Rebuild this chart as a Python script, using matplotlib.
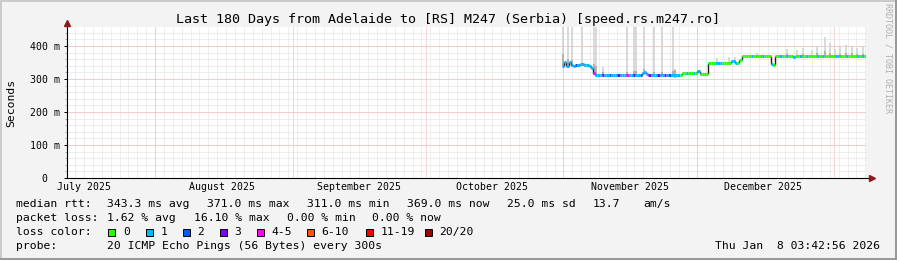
import numpy as np
import matplotlib
matplotlib.use("Agg")
import matplotlib.pyplot as plt
from matplotlib.collections import LineCollection
from matplotlib.patches import Rectangle
from matplotlib.lines import Line2D

plt.rcParams["font.family"] = ["DejaVu Sans Mono"]

# x axis is in days since the window start (Jul 12 2025 03:42:56), 180 days long
month_starts = [19.845, 50.845, 80.845, 111.845, 141.845, 172.845]
month_label_pos = [3.845, 34.845, 65.845, 95.845, 126.845, 156.845]
month_labels = ["July 2025", "August 2025", "September 2025",
                "October 2025", "November 2025", "December 2025"]

y_ticks = [0, 100, 200, 300, 400]
y_labels = ["0", "100 m", "200 m", "300 m", "400 m"]

# median rtt (ms), one value per half day starting at day 111.5
first_day = 111.5
step_days = 0.5
median_ms = [
    340, 352, 338, 352, 342, 340, 341, 343, 345, 344, 341, 343, 340,
    333, 318, 312, 312, 312, 312, 312, 312, 312, 312, 312, 312, 312,
    312, 312, 312, 312, 312, 312, 312, 312, 312, 312,
    318, 322, 314,
    312, 312, 312, 312, 312, 312, 312, 312, 312, 312, 312, 312,
    313, 313, 313,
    319, 319, 319, 319, 319, 319, 319,
    325, 315, 314, 314, 314,
    349, 348, 348, 348, 347, 347, 348, 348, 348, 348,
    354, 355, 349, 350, 357,
    370, 370, 370, 370, 370, 370, 370, 370, 370, 370, 370, 370, 370,
    346, 343,
    370, 370, 370, 370, 370, 370, 370, 370, 368, 370, 370, 370, 370, 370,
    370, 370, 370, 370, 370, 370, 370, 370, 370, 370, 370, 370, 370, 370,
    370, 370, 370, 370, 370, 370, 370, 370, 370, 370, 370, 370, 369,
]
# packet loss class per sample (index into loss_colors)
loss_class = [
    1, 1, 1, 1, 1, 1, 2, 1, 1, 1, 1, 1, 1,
    1, 4, 1, 1, 1, 3, 1, 1, 2, 1, 1, 1, 3,
    1, 1, 1, 4, 1, 1, 3, 1, 1, 2,
    1, 1, 1,
    3, 1, 1, 1, 3, 1, 1, 3, 1, 2, 1, 1,
    1, 1, 0,
    0, 0, 1, 0, 0, 1, 0,
    1, 0, 0, 0, 0,
    0, 0, 0, 1, 1, 1, 0, 0, 0, 0,
    1, 1, 1, 0, 0,
    0, 0, 0, 0, 1, 0, 0, 0, 0, 1, 0, 0, 0,
    1, 0,
    0, 0, 1, 0, 0, 1, 0, 0, 1, 0, 0, 1, 0, 0,
    1, 0, 0, 0, 0, 1, 0, 1, 0, 0, 0, 0, 0, 1,
    1, 0, 0, 0, 1, 0, 0, 0, 0, 1, 0, 1, 0,
]

# smoke (spread of the 20 pings) spikes
spike_day = [111.74, 112.86, 113.76, 116.02, 118.72, 119.17, 120.75, 126.16,
             127.73, 128.19, 129.99, 132.24, 134.05, 136.53, 136.98, 146.39,
             149.09, 150.44, 155.44, 156.79, 162.20, 164.45, 165.80, 167.83,
             168.96, 170.76, 171.88, 173.01, 174.14, 175.49, 176.84, 177.97,
             179.32]
spike_low = [336, 336, 336, 338, 312, 310, 310, 310, 310, 310, 316, 310, 310,
             310, 303, 346, 346, 348, 368, 368, 368, 368, 368, 368, 368, 368,
             368, 368, 368, 368, 368, 368, 368]
spike_top = [470, 470, 470, 470, 470, 470, 335, 470, 470, 470, 470, 470, 470,
             470, 330, 363, 368, 366, 378, 373, 392, 388, 393, 388, 400, 426,
             408, 390, 398, 403, 400, 393, 396]
spike_dark = [375, 360, 358, 350, 345, 340, 320, 320, 325, 325, 330, 320, 320,
              325, 328, 352, 352, 354, 374, 374, 376, 374, 376, 374, 378, 385,
              380, 374, 376, 378, 378, 376, 376]

loss_colors = ["#26ff00", "#00b8ff", "#0059ff", "#7e00ff",
               "#ff00ff", "#ff5500", "#ff0000", "#a10000"]
loss_names = ["0", "1", "2", "3", "4-5", "6-10", "11-19", "20/20"]

W, H = 897, 260
fig = plt.figure(figsize=(W / 100, H / 100), dpi=100, facecolor="#f3f3f3")
ax = fig.add_axes([67 / W, (H - 178) / H, 799 / W, 151 / H])
ax.set_facecolor("white")
ax.set_xlim(0, 180)
ax.set_ylim(0, 457.6)
for s in ax.spines.values():
    s.set_visible(False)

# grid: minor every 2 days / 20 ms, major at month starts / 100 ms
dot = (0, (1, 1))
for d in np.arange(1.845, 180, 2):
    ax.axvline(d, color="#dedede", lw=0.72, ls=dot, zorder=0.5)
for v in range(20, 458, 20):
    ax.axhline(v, color="#dedede", lw=0.72, ls=dot, zorder=0.5)
for d in month_starts:
    ax.axvline(d, color="#f7b0b0", lw=0.72, ls=dot, zorder=0.6)
for v in y_ticks[1:]:
    ax.axhline(v, color="#f7b0b0", lw=0.72, ls=dot, zorder=0.6)

# smoke
ax.vlines(spike_day, spike_low, spike_top, color="#d0d0d0", lw=1.1, zorder=1)
ax.vlines(spike_day, spike_low, spike_dark, color="#a8a8a8", lw=1.1, zorder=1.1)

# median line coloured by packet loss
t = first_day + step_days * np.arange(len(median_ms))
segs = [[(t[i], median_ms[i]), (t[i] + step_days, median_ms[i])] for i in range(len(t))]
cols = [loss_colors[c] for c in loss_class]
steps = [[(t[i] + step_days, median_ms[i]), (t[i] + step_days, median_ms[i + 1])]
         for i in range(len(t) - 1) if median_ms[i] != median_ms[i + 1]]
ax.add_collection(LineCollection(steps, colors="#202020", linewidths=1.0, zorder=2))
ax.add_collection(LineCollection(segs, colors=cols, linewidths=2.2, capstyle="butt", zorder=3))

# axes with arrows
ax.plot([0, 1.006], [0, 0], transform=ax.transAxes, color="black", lw=0.8, clip_on=False, zorder=4)
ax.plot([0, 0], [0, 1.02], transform=ax.transAxes, color="black", lw=0.8, clip_on=False, zorder=4)
ax.plot(1.007, 0, marker=">", ms=4.5, color="#8b1a1a", transform=ax.transAxes, clip_on=False, zorder=5)
ax.plot(0, 1.024, marker="^", ms=4.5, color="#8b1a1a", transform=ax.transAxes, clip_on=False, zorder=5)

ax.set_yticks(y_ticks, y_labels, fontsize=7.1)
ax.set_yticks(range(20, 458, 20), minor=True)
ax.tick_params(axis="y", which="major", length=2.2, width=0.72, pad=2.9, colors="black")
ax.tick_params(axis="y", which="minor", length=1.4, width=0.72, color="#aaaaaa")
ax.set_xticks(month_label_pos, month_labels, fontsize=7.1)
ax.tick_params(axis="x", length=0, pad=3.2)
ax.yaxis.get_major_ticks()[0].label1.set_x(-13 / 799)

ax.set_ylabel("Seconds", fontsize=8.2, labelpad=0)
ax.yaxis.set_label_coords(-51 / 799, 0.5)


def txt(x, y, s, size=8.2, **kw):
    fig.text(x / W, 1 - y / H, s, va="center", fontsize=size, **kw)


txt(448, 19, "Last 180 Days from Adelaide to [RS] M247 (Serbia) [speed.rs.m247.ro]",
    size=9.6, ha="center")
fig.text(888 / W, 1 - 58 / H, "RRDTOOL / TOBI OETIKER", rotation=270,
         ha="center", va="center", fontsize=6, color="#b0b0b0")

# legend block
txt(16, 204, "median rtt:")
for x, s in [(107, "343.3 ms avg"), (207, "371.0 ms max"), (307, "311.0 ms min"),
             (407, "369.0 ms now"), (507, "25.0 ms sd"), (593, "13.7"), (643, "am/s")]:
    txt(x, 204, s)
txt(16, 218, "packet loss:")
for x, s in [(107, "1.62 % avg"), (194, "16.10 % max"), (287, "0.00 % min"), (372, "0.00 % now")]:
    txt(x, 218, s)
txt(16, 232, "loss color:")
box_x = [108, 145.5, 182.5, 219.5, 256.5, 306.5, 365.5, 424.5]
for bx, c, name in zip(box_x, loss_colors, loss_names):
    fig.add_artist(Rectangle((bx / W, 1 - 235.5 / H), 7 / W, 7 / H, transform=fig.transFigure,
                             facecolor=c, edgecolor="black", lw=0.7))
    txt(bx + 15, 232, name)
txt(16, 246, "probe:")
txt(107, 246, "20 ICMP Echo Pings (56 Bytes) every 300s")
txt(880, 246, "Thu Jan  8 03:42:56 2026", ha="right")

# 3d-ish frame
fig.add_artist(Line2D([0, 1], [1 - 1 / H] * 2, color="#cbcbcb", lw=1.44))
fig.add_artist(Line2D([1 / W] * 2, [0, 1], color="#cbcbcb", lw=1.44))
fig.add_artist(Line2D([0, 1], [1 / H] * 2, color="#999999", lw=1.44))
fig.add_artist(Line2D([1 - 1 / W] * 2, [0, 1], color="#999999", lw=1.44))

fig.savefig("out.png", dpi=100, facecolor=fig.get_facecolor())
